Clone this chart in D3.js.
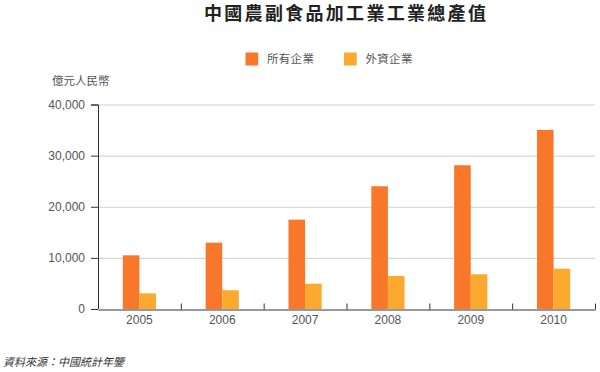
<!DOCTYPE html>
<html>
<head>
<meta charset="utf-8">
<script src="https://cdnjs.cloudflare.com/ajax/libs/d3/7.8.5/d3.min.js"></script>
<style>
  body { margin: 0; background: #fff; }
  svg { display: block; font-family: "Liberation Sans", Arial, "Noto Sans CJK TC", sans-serif; }
  .cjk { font-family: "Noto Sans CJK TC", sans-serif; }
  .axis text { fill: #555; font-size: 12px; }
  .axis path, .axis line { stroke: #333; }
</style>
</head>
<body>
<svg class="chart"></svg>
<script>
var years = ["2005", "2006", "2007", "2008", "2009", "2010"];
var series = ["所有企業", "外資企業"];
var allEnterprises = [10500, 12970, 17480, 24010, 28120, 35030];
var foreignEnterprises = [3070, 3660, 4950, 6460, 6790, 7890];
var yTicks = [0, 10000, 20000, 30000, 40000];
var colors = ["#f8772a", "#fbaa2f"];

var width = 600,
    height = 372;

var margin = {top: 104.5, right: 5, bottom: 63, left: 98},
    plotW = width - margin.left - margin.right,
    plotH = height - margin.top - margin.bottom;

var svg = d3.select(".chart")
    .attr("width", width)
    .attr("height", height);

var data = years.map(function(y, i) {
  return {year: y, values: [allEnterprises[i], foreignEnterprises[i]]};
});

var x = d3.scaleBand().domain(years).range([0, plotW]),
    y = d3.scaleLinear().domain([0, 40000]).range([plotH, 0]);

var barW = 16.6;
var x1 = d3.scaleBand().domain(series)
    .range([x.bandwidth() / 2 - barW, x.bandwidth() / 2 + barW]);

var chart = svg.append("g")
    .attr("transform", "translate(" + margin.left + "," + margin.top + ")");

// grid
chart.append("g")
    .selectAll("line")
    .data(yTicks.slice(1))
  .enter().append("line")
    .attr("x1", 0)
    .attr("x2", plotW)
    .attr("y1", function(d) { return y(d) + 0.5; })
    .attr("y2", function(d) { return y(d) + 0.5; })
    .attr("stroke", "#cfcfcf");

// bars
var groups = chart.selectAll(".group")
    .data(data)
  .enter().append("g")
    .attr("class", "group")
    .attr("transform", function(d) { return "translate(" + x(d.year) + ",0)"; });

groups.selectAll("rect")
    .data(function(d) { return d.values; })
  .enter().append("rect")
    .attr("x", function(d, i) { return x1(series[i]); })
    .attr("y", function(d) { return y(d); })
    .attr("width", x1.bandwidth())
    .attr("height", function(d) { return plotH - y(d); })
    .attr("fill", function(d, i) { return colors[i]; });

// y axis
chart.append("g")
    .attr("class", "y axis")
    .call(d3.axisLeft(y).tickValues(yTicks).tickSize(7).tickPadding(6)
      .tickFormat(d3.format(",")))
    .call(function(g) { g.select(".domain").attr("d", "M0.5," + plotH + "V0.5H-7"); });

// x axis labels
chart.append("g")
    .attr("class", "x axis")
    .attr("transform", "translate(0," + plotH + ")")
    .call(d3.axisBottom(x).tickSize(0).tickPadding(6))
    .call(function(g) { g.select(".domain").remove(); });

// x axis line with boundary ticks pointing up
var xb = d3.scaleLinear().domain([0, years.length]).range([0, plotW]);
chart.append("g")
    .attr("class", "axis")
    .attr("transform", "translate(0," + (plotH + 0.5) + ")")
    .call(d3.axisTop(xb).tickValues(d3.range(1, years.length + 1)).tickSize(6).tickSizeOuter(0).tickFormat(""));

// title
svg.append("text")
    .attr("class", "cjk")
    .attr("x", 204)
    .attr("y", 14)
    .attr("dy", "0.35em")
    .style("font-size", "18px")
    .style("font-weight", "bold")
    .style("letter-spacing", "2.3px")
    .style("fill", "#222")
    .text("中國農副食品加工業工業總產值");

// legend
var legend = svg.selectAll(".legend")
    .data(series)
  .enter().append("g")
    .attr("class", "legend")
    .attr("transform", function(d, i) { return "translate(" + (245.5 + i * 98.5) + ",52.5)"; });

legend.append("rect")
    .attr("width", 12.7)
    .attr("height", 13)
    .attr("fill", function(d, i) { return colors[i]; });

legend.append("text")
    .attr("class", "cjk")
    .attr("x", 21.5)
    .attr("y", 6.8)
    .attr("dy", "0.35em")
    .style("font-size", "11.5px")
    .style("letter-spacing", "0.3px")
    .style("fill", "#555")
    .text(function(d) { return d; });

// unit label
svg.append("text")
    .attr("class", "cjk")
    .attr("x", 52)
    .attr("y", 80.7)
    .attr("dy", "0.35em")
    .style("font-size", "11.5px")
    .style("fill", "#555")
    .text("億元人民幣");

// source
svg.append("text")
    .attr("class", "cjk")
    .attr("x", 3)
    .attr("y", 362)
    .attr("dy", "0.35em")
    .style("font-size", "11px")
    .style("font-style", "italic")
    .style("fill", "#333")
    .text("資料來源：中國統計年鑒");
</script>
</body>
</html>
